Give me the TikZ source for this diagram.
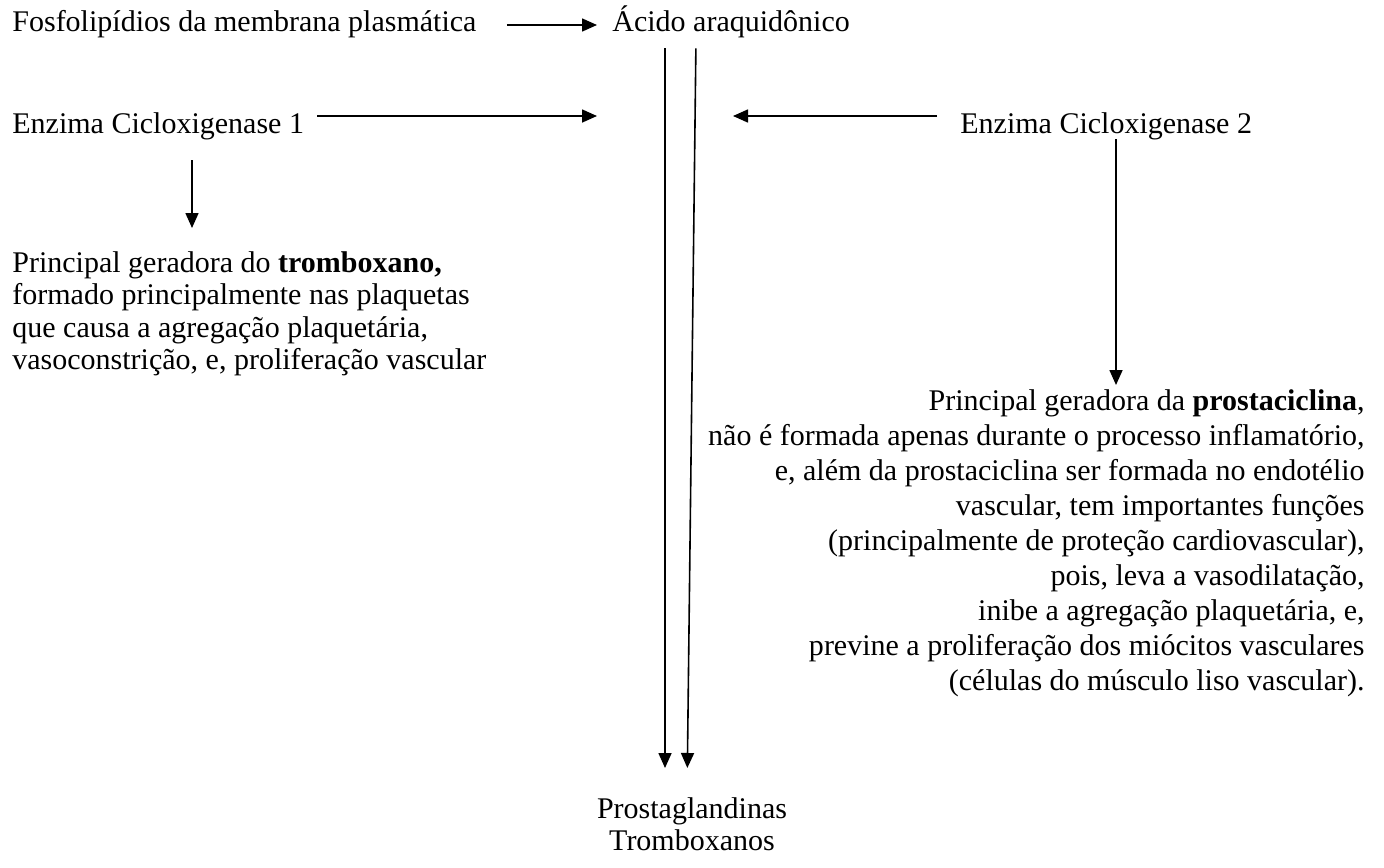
\documentclass[tikz,border=0pt]{standalone}
\usepackage{fontspec}
\setmainfont{Liberation Serif}
\usetikzlibrary{arrows.meta}
\tikzset{
    seta/.style={line width=0.8pt, -{Triangle[length=7.5pt,width=6.5pt]}},
    rotulo/.style={inner sep=0pt, anchor=base west, text height=10pt, text depth=3pt, font=\fontsize{15}{16.25}\selectfont},
    bloco/.style={inner sep=0pt, font=\fontsize{15}{16.25}\selectfont},
}
\begin{document}
\begin{tikzpicture}[x=0.5pt, y=-0.5pt]
    \useasboundingbox (0,0) rectangle (1384,867);

    \node[rotulo] (fosfo) at (12,32) {Fosfolipídios da membrana plasmática};
    \node[rotulo] (acido) at (612,32) {Ácido araquidônico};
    \node[rotulo] (cox1) at (12,133) {Enzima Cicloxigenase 1};
    \node[rotulo] (cox2) at (960,133) {Enzima Cicloxigenase 2};

    \node[bloco, anchor=north west, align=left] (trombo) at (12,251)
        {Principal geradora do \textbf{tromboxano,}\\formado principalmente nas plaquetas\\que causa a agregação plaquetária,\\vasoconstrição, e, proliferação vascular};
    \node[bloco, anchor=north east, align=right, font=\fontsize{15}{17.5}\selectfont] (prosta) at (1365,389)
        {Principal geradora da \textbf{prostaciclina},\\não é formada apenas durante o processo inflamatório,\\e, além da prostaciclina ser formada no endotélio\\vascular, tem importantes funções\\(principalmente de proteção cardiovascular),\\pois, leva a vasodilatação,\\inibe a agregação plaquetária, e,\\previne a proliferação dos miócitos vasculares\\(células do músculo liso vascular).};
    \node[bloco, anchor=north, align=center] (produtos) at (692,797) {Prostaglandinas\\Tromboxanos};

    \coordinate (fim1) at (597,116);
    \coordinate (fim2) at (733,116);
    \coordinate (xe) at (192,0);
    \coordinate (xd) at (1116,0);
    \coordinate (xa) at (665,0);
    \coordinate (xb) at (696,0);
    \coordinate (xc) at (687,0);

    \draw[seta] ([xshift=15pt]fosfo.east) -- ([xshift=-7.5pt]acido.west);
    \draw[seta] ([shift={(6.5pt,5pt)}]cox1.east) -- (fim1);
    \draw[seta] ([shift={(-11.5pt,5pt)}]cox2.west) -- (fim2);

    \draw[seta, shorten <=10.5pt, shorten >=11.5pt] (cox1.south -| xe) -- (xe |- trombo.north);
    \draw[seta, shorten >=2pt] (cox2.south -| xd) -- (xd |- prosta.north);

    \draw[seta, shorten <=5pt, shorten >=14.5pt] (acido.south -| xa) -- (xa |- produtos.north);
    \draw[seta, shorten <=5pt, shorten >=14.5pt] (acido.south -| xb) -- (xc |- produtos.north);
\end{tikzpicture}
\end{document}
